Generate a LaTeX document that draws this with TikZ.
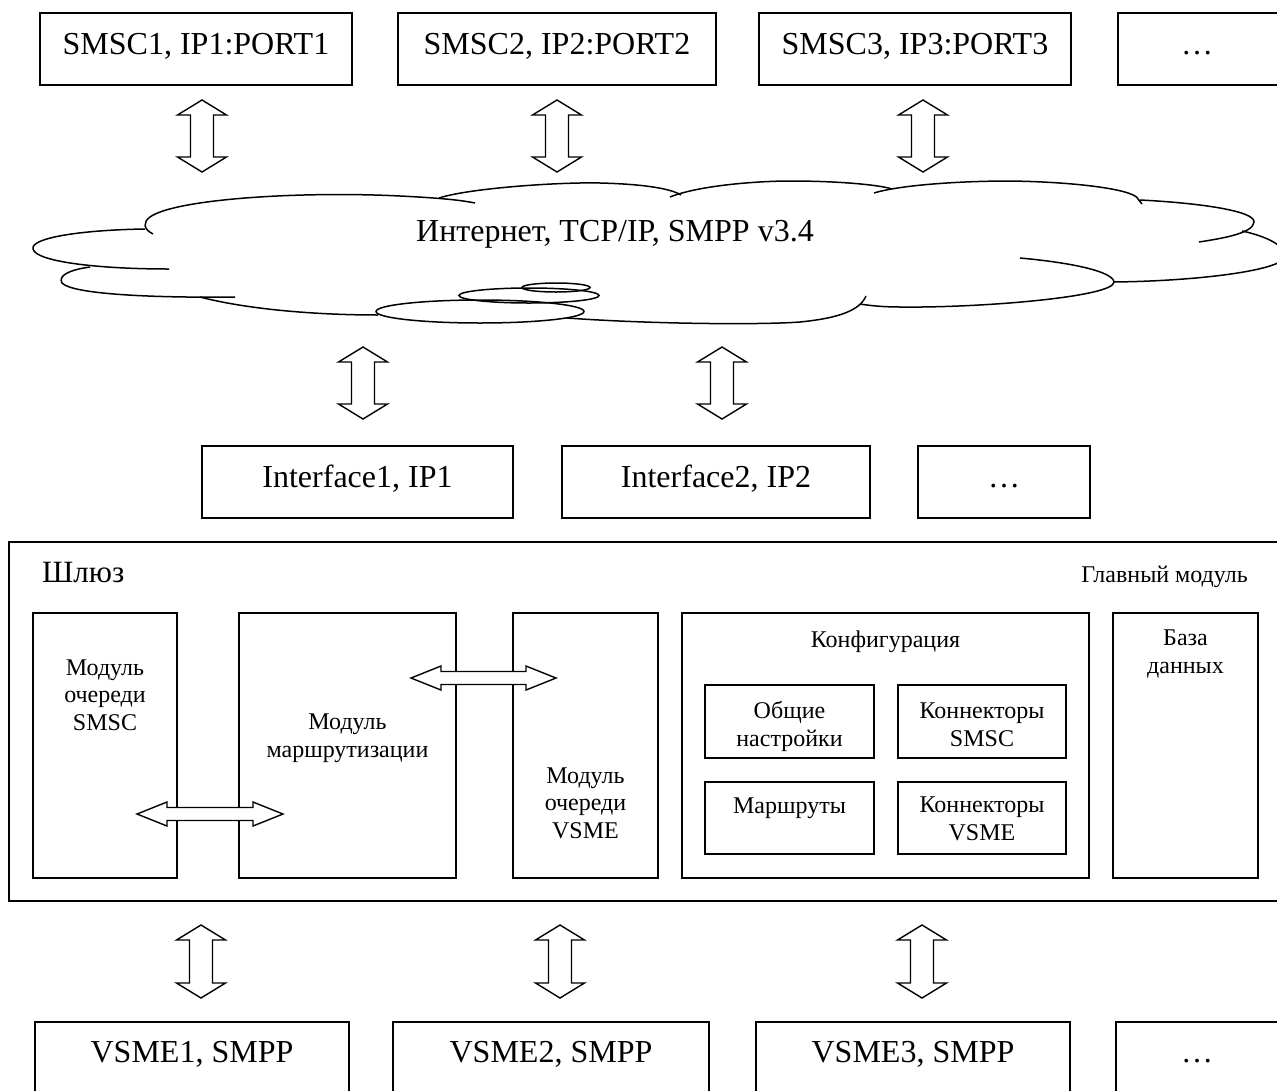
\documentclass[tikz,border=0pt]{standalone}
\usepackage{fontspec}
\setmainfont{Liberation Serif}
\tikzset{
  box/.style={draw, line width=1.3pt, inner sep=0pt, outer sep=0pt},
  modbox/.style={draw, line width=1.8pt, inner sep=0pt, outer sep=0pt},
  bigtxt/.style={font=\fontsize{32}{36}\selectfont, inner sep=0pt, anchor=base},
  smalltxt/.style={font=\fontsize{24}{27.5}\selectfont, inner sep=0pt, anchor=base, align=center},
  blk/.style={draw, line width=1.4pt, fill=white, line join=miter},
  cloudline/.style={line width=1.5pt},
}
\newcommand\mkvarrow[3]{\draw[blk] (#1,#2) -- ({#1+24.5},{#2+15}) -- ({#1+11.5},{#2+15}) -- ({#1+11.5},{#3-15}) -- ({#1+24.5},{#3-15}) -- (#1,#3) -- ({#1-24.5},{#3-15}) -- ({#1-11.5},{#3-15}) -- ({#1-11.5},{#2+15}) -- ({#1-24.5},{#2+15}) -- cycle;}
\newcommand\mkharrow[3]{\draw[blk] (#1,#3) -- ({#1+30},{#3-12}) -- ({#1+30},{#3-6.5}) -- ({#2-30},{#3-6.5}) -- ({#2-30},{#3-12}) -- (#2,#3) -- ({#2-30},{#3+12}) -- ({#2-30},{#3+6.5}) -- ({#1+30},{#3+6.5}) -- ({#1+30},{#3+12}) -- cycle;}
\begin{document}
\begin{tikzpicture}[x=1pt,y=-1pt]
\useasboundingbox (0,0) rectangle (1277,1090);
\clip (0,0) rectangle (1277,1090);

% top row
\node[box, minimum width=312, minimum height=72] (s1) at (196,49) {};
\node[box, minimum width=318, minimum height=72] (s2) at (557,49) {};
\node[box, minimum width=312, minimum height=72] (s3) at (915,49) {};
\node[box, minimum width=172, minimum height=72] (s4) at (1204,49) {};
\node[bigtxt] (s1t) at (196,54) {SMSC1, IP1:PORT1};
\node[bigtxt] (s2t) at (557,54) {SMSC2, IP2:PORT2};
\node[bigtxt] (s3t) at (915,54) {SMSC3, IP3:PORT3};
\node[bigtxt] (s4t) at (1197,54) {…};

\mkvarrow{202}{100}{172}
\mkvarrow{557}{100}{172}
\mkvarrow{923}{100}{172}

% cloud
\draw[cloudline] (153,234) .. controls (143,229) and (143,222) .. (150,217) .. controls (175,199) and (300,191) .. (400,196) .. controls (440,198) and (460,200) .. (475,203);
\draw[cloudline] (439,198) .. controls (470,188) and (560,182) .. (600,183) .. controls (640,184) and (670,188) .. (681,195);
\draw[cloudline] (670,197) .. controls (700,185) and (760,181) .. (790,181) .. controls (840,181) and (880,185) .. (892,189);
\draw[cloudline] (874,193) .. controls (900,185) and (960,181) .. (1010,181) .. controls (1080,182) and (1135,190) .. (1138,199) -- (1142,204);
\draw[cloudline] (1140,200) .. controls (1200,203) and (1255,211) .. (1254,222) .. controls (1253,233) and (1225,238) .. (1199,242);
\draw[cloudline] (1242,231) .. controls (1265,236) and (1285,245) .. (1285,256) .. controls (1285,270) and (1200,281) .. (1114,282);
\draw[cloudline] (1020,258) .. controls (1075,263) and (1113,272) .. (1114,282) .. controls (1114,297) and (980,308) .. (900,307) .. controls (880,307) and (866,305) .. (860,304);
\draw[cloudline] (567,318) .. controls (650,324) and (760,325) .. (800,322) .. controls (840,318) and (860,310) .. (866,296);
\draw[cloudline] (200,297) .. controls (250,310) and (320,315) .. (378,315);
\draw[cloudline] (90,267) .. controls (68,270) and (58,276) .. (62,283) .. controls (72,294) and (150,298) .. (235,297);
\draw[cloudline] (145,229) .. controls (80,230) and (30,238) .. (33,249) .. controls (36,262) and (100,269) .. (169,269);
\draw[cloudline] (480,311.5) ellipse [x radius=104pt, y radius=11.5pt];
\draw[cloudline] (529,295.5) ellipse [x radius=70pt, y radius=7.5pt];
\draw[cloudline] (556,287.5) ellipse [x radius=34pt, y radius=4.5pt];
\node[bigtxt] (net) at (615,241) {Интернет, TCP/IP, SMPP v3.4};

\mkvarrow{363}{347}{419}
\mkvarrow{722}{347}{419}

% interfaces
\node[box, minimum width=311, minimum height=72] (i1) at (357.5,482) {};
\node[box, minimum width=308, minimum height=72] (i2) at (716,482) {};
\node[box, minimum width=172, minimum height=72] (i3) at (1004,482) {};
\node[bigtxt] (i1t) at (357.5,487) {Interface1, IP1};
\node[bigtxt] (i2t) at (716,487) {Interface2, IP2};
\node[bigtxt] (i3t) at (1004,487) {…};

% gateway
\node[box, minimum width=1281, minimum height=359] (gw) at (649.5,721.5) {};
\node[font=\fontsize{31}{34}\selectfont, inner sep=0pt, anchor=base west] (gwt) at (42,582) {Шлюз};
\node[smalltxt, anchor=base east] (main) at (1248,582) {Главный модуль};

\node[modbox, minimum width=144, minimum height=265] (mq) at (105,745.5) {};
\node[modbox, minimum width=217, minimum height=265] (mr) at (347.5,745.5) {};
\node[modbox, minimum width=145, minimum height=265] (mv) at (585.5,745.5) {};
\node[modbox, minimum width=407, minimum height=265] (mc) at (885.5,745.5) {};
\node[modbox, minimum width=145, minimum height=265] (md) at (1185.5,745.5) {};

\node[smalltxt] (mqt) at (105,730) {Модуль\\очереди\\SMSC};
\node[smalltxt] (mrt) at (347.5,757) {Модуль\\маршрутизации};
\node[smalltxt] (mvt) at (585.5,838) {Модуль\\очереди\\VSME};
\node[smalltxt] (mct) at (885.5,647) {Конфигурация};
\node[smalltxt] (mdt) at (1185.5,673) {База\\данных};

\node[modbox, minimum width=169, minimum height=73] (c1) at (789.5,721.5) {};
\node[modbox, minimum width=168, minimum height=73] (c2) at (982,721.5) {};
\node[modbox, minimum width=169, minimum height=72] (c3) at (789.5,818) {};
\node[modbox, minimum width=168, minimum height=72] (c4) at (982,818) {};
\node[smalltxt] (c1t) at (789.5,746) {Общие\\настройки};
\node[smalltxt] (c2t) at (982,746) {Коннекторы\\SMSC};
\node[smalltxt] (c3t) at (789.5,813) {Маршруты};
\node[smalltxt] (c4t) at (982,840) {Коннекторы\\VSME};

\mkharrow{137}{283}{814}
\mkharrow{411}{556}{678}

\mkvarrow{201}{925}{998}
\mkvarrow{560}{925}{998}
\mkvarrow{922}{925}{998}

% bottom row
\node[box, minimum width=314, minimum height=80] (v1) at (192,1062) {};
\node[box, minimum width=316, minimum height=80] (v2) at (551,1062) {};
\node[box, minimum width=314, minimum height=80] (v3) at (913,1062) {};
\node[box, minimum width=174, minimum height=80] (v4) at (1203,1062) {};
\node[bigtxt] (v1t) at (192,1062) {VSME1, SMPP};
\node[bigtxt] (v2t) at (551,1062) {VSME2, SMPP};
\node[bigtxt] (v3t) at (913,1062) {VSME3, SMPP};
\node[bigtxt] (v4t) at (1197,1062) {…};
\end{tikzpicture}
\end{document}
